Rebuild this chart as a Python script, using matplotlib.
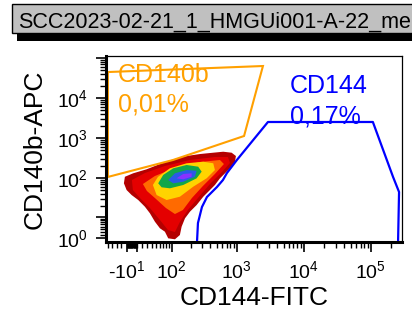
import numpy as np
import matplotlib
matplotlib.use('agg')
import matplotlib.pyplot as plt
from matplotlib.patches import Rectangle

plt.rcParams['font.family'] = 'Liberation Sans'
plt.rcParams['mathtext.fontset'] = 'custom'
plt.rcParams['mathtext.rm'] = 'Liberation Sans'
plt.rcParams['mathtext.it'] = 'Liberation Sans'

# gates (fluorescence units)
cd140b_gate_x = [-50, 2450, 1280, 105, -50]
cd140b_gate_y = [44900, 63500, 1130, 284, 107]
cd144_gate_x = [251, 260, 299, 356, 503, 619, 710, 1000, 2910, 107000, 214000, 263000, 254000]
cd144_gate_y = [-0.52, 6.63, 18.6, 33.5, 59.8, 89.6, 134, 284, 2530, 2530, 107, 44.8, -0.52]

# density contours of the events (outer -> inner)
lvl_darkred_x = [-13.2, 2.43, 28.6, 60.8, 106, 174, 279, 443, 625, 835, 968, 936, 835, 703, 558, 469,
                 395, 313, 248, 196, 164, 145, 136, 113, 86.8, 75.7, 60.8, 47.6, 35.8, 25.1, 11.9,
                 -0.56, -9.95, -15.1]
lvl_darkred_y = [108, 132, 166, 225, 295, 357, 400, 432, 457, 432, 357, 257, 193, 145, 98.8, 67.2,
                 50.3, 34.1, 20.9, 14.0, 9.19, 4.97, 1.95, 0.61, 0.91, 3.06, 4.32, 7.28, 12.7, 18.9,
                 28.1, 37.6, 50.3, 74.1]
lvl_red_x = [0, 25.1, 75.7, 196, 469, 735, 788, 598, 395, 260, 182, 136, 113, 85.8, 60.8, 35.8, 15.1, 1.87]
lvl_red_y = [89.6, 134, 201, 284, 337, 337, 239, 142, 71.1, 31.6, 15.5, 7.13, 2.95, 3.67, 8.2, 17.5, 31.6, 50.3]
lvl_orange_x = [21, 47.6, 113, 279, 558, 640, 469, 309, 210, 152, 113, 79, 47.6, 29.3]
lvl_orange_y = [71.1, 113, 179, 253, 284, 225, 127, 63.4, 31.6, 15.5, 12.1, 17.5, 31.6, 47.5]
lvl_yellow_x = [42.7, 55.3, 92.9, 174, 313, 443, 469, 352, 220, 136, 81.3, 51.9]
lvl_yellow_y = [67.2, 107, 176, 235, 257, 235, 159, 98.8, 60.9, 34.1, 28.1, 37.6]
lvl_green_x = [56.1, 70.4, 106, 174, 262, 296, 248, 154, 92.9, 65.6]
lvl_green_y = [74.1, 120, 176, 213, 193, 145, 98.8, 67.2, 55.5, 58.8]
lvl_blue_x = [86.8, 113, 174, 248, 234, 154, 106]
lvl_blue_y = [89.6, 132, 159, 153, 108, 81.2, 74.1]
lvl_violet_x = [120, 154, 208, 208, 154]
lvl_violet_y = [98.8, 127, 132, 108, 93.3]

x_major = [-10, 10, 100, 1000, 10000, 100000]
x_labels = ['-$10^{1}$', '', '$10^{2}$', '$10^{3}$', '$10^{4}$', '$10^{5}$']
y_major = [1, 10, 100, 1000, 10000, 100000]
y_labels = ['$10^{0}$', '', '$10^{2}$', '$10^{3}$', '$10^{4}$', '']

title = 'SCC2023-02-21_1_HMGUi001-A-22_merged'

LN10 = np.log(10)
def fx(u):
    return np.arcsinh(np.asarray(u) * 0.0184) / LN10
def ifx(f):
    return np.sinh(np.asarray(f) * LN10) / 0.0184
def fy(v):
    return np.arcsinh(np.asarray(v) * 0.19) / LN10
def ify(f):
    return np.sinh(np.asarray(f) * LN10) / 0.19

fig = plt.figure(figsize=(4.12, 3.15), dpi=100)
ax = fig.add_axes([106/412, 73/315, 296/412, 186/315])
ax.set_xscale('function', functions=(fx, ifx))
ax.set_yscale('function', functions=(fy, ify))
ax.set_xlim(-55, 291000)
ax.set_ylim(-0.21, 113000)

levels = [(lvl_darkred_x, lvl_darkred_y, '#b40000'),
          (lvl_red_x, lvl_red_y, '#e40000'),
          (lvl_orange_x, lvl_orange_y, '#ff6a00'),
          (lvl_yellow_x, lvl_yellow_y, '#ffd400'),
          (lvl_green_x, lvl_green_y, '#12a64a'),
          (lvl_blue_x, lvl_blue_y, '#2a5ae6'),
          (lvl_violet_x, lvl_violet_y, '#8a30ff')]
for lx, ly, c in levels:
    ax.fill(lx, ly, color=c, lw=0)

ax.fill(cd140b_gate_x, cd140b_gate_y, fill=False, ec='#ffa000', lw=1.5)
ax.plot(cd144_gate_x, cd144_gate_y, color='#0000ff', lw=1.6)

ax.text(0.04, 0.86, 'CD140b', transform=ax.transAxes, color='#ffa000', fontsize=18)
ax.text(0.04, 0.704, '0,01%', transform=ax.transAxes, color='#ffa000', fontsize=18)
ax.text(0.62, 0.80, 'CD144', transform=ax.transAxes, color='#0000ff', fontsize=18)
ax.text(0.62, 0.638, '0,17%', transform=ax.transAxes, color='#0000ff', fontsize=18)

# ticks
minor_x = [-50, -40, -30, -20] + [s * m for s in (-1, 1) for m in range(1, 10)] + [0]
minor_x += [m * 10**k for k in range(1, 5) for m in range(2, 10)] + [200000]
minor_y = [m * 10**k for k in range(0, 5) for m in range(2, 10)]
ax.set_xticks(x_major, x_labels)
ax.set_xticks(minor_x, minor=True)
ax.set_yticks(y_major, y_labels)
ax.set_yticks(minor_y, minor=True)
ax.tick_params(which='major', length=7, width=1.2, labelsize=14, pad=6)
ax.tick_params(which='minor', length=4, width=1.0)

for s in ('left', 'bottom'):
    ax.spines[s].set_linewidth(2.2)
for s in ('top', 'right'):
    ax.spines[s].set_linewidth(0.9)

ax.set_xlabel('CD144-FITC', fontsize=19)
ax.set_ylabel('CD140b-APC', fontsize=19)
ax.xaxis.set_label_coords(0.5, -0.235)
ax.yaxis.set_label_coords(-0.20, 0.5)

# title box with shadow
fig.add_artist(Rectangle((17/412, (315-40.5)/315), 1, 29.5/315, transform=fig.transFigure,
                         fc='black', ec='none'))
fig.add_artist(Rectangle((12/412, (315-33)/315), 1, 29/315, transform=fig.transFigure,
                         fc='#c0c0c0', ec='black', lw=1))
fig.text(18/412, (315-28.3)/315, title, fontsize=15.5, va='baseline', ha='left')

fig.savefig('out.png')
